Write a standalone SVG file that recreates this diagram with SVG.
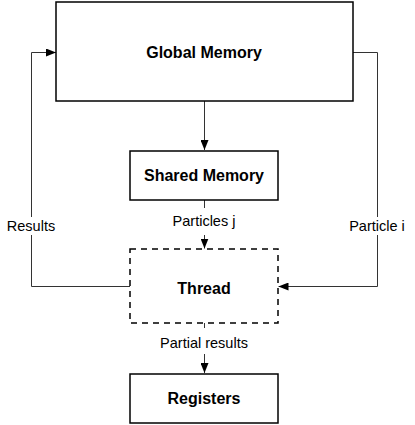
<svg xmlns="http://www.w3.org/2000/svg" width="415" height="425" viewBox="0 0 415 425">
<style>
.box{fill:#fff;stroke:#000;stroke-width:1.5}
.dash{fill:none;stroke:#000;stroke-width:1.5;stroke-dasharray:6,5}
.title{font-family:"Liberation Sans",Arial,sans-serif;font-weight:bold;font-size:16px;text-anchor:middle;fill:#000}
.lbl{font-family:"Liberation Sans",Arial,sans-serif;font-size:14.5px;text-anchor:middle;fill:#000}
.conn{fill:none;stroke:#333;stroke-width:1}
</style>
<defs>
<marker id="arr" viewBox="0 0 10 8" refX="10" refY="4" markerWidth="10" markerHeight="8" markerUnits="userSpaceOnUse" orient="auto">
<path d="M0,0 L10,4 L0,8 Z" fill="#000"/>
</marker>
</defs>
<g id="connectors">
<path class="conn" d="M204.5,101 V150" marker-end="url(#arr)"/>
<path class="conn" d="M204.5,200 V208"/>
<path class="conn" d="M204.5,235 V248.5" marker-end="url(#arr)"/>
<path class="conn" d="M204.5,323 V328"/>
<path class="conn" d="M204.5,354 V373" marker-end="url(#arr)"/>
<path class="conn" d="M130,286.5 H31.5 V52.5 H56" marker-end="url(#arr)"/>
<path class="conn" d="M353,52.5 H377.5 V286.5 H278.5" marker-end="url(#arr)"/>
<rect x="0" y="217" width="62" height="18" fill="#fff"/>
<rect x="344" y="217" width="70" height="18" fill="#fff"/>
<text class="lbl" x="31" y="231">Results</text>
<text class="lbl" x="377" y="231">Particle i</text>
<text class="lbl" x="204" y="226">Particles j</text>
<text class="lbl" x="204" y="348">Partial results</text>
</g>
<g id="global-memory">
<rect class="box" x="56" y="2" width="297" height="99"/>
<text class="title" x="204" y="57.5">Global Memory</text>
</g>
<g id="shared-memory">
<rect class="box" x="130" y="151" width="148" height="49"/>
<text class="title" x="204" y="181">Shared Memory</text>
</g>
<g id="thread">
<rect class="dash" x="130" y="249" width="148" height="74"/>
<text class="title" x="204" y="294">Thread</text>
</g>
<g id="registers">
<rect class="box" x="130" y="374" width="148" height="49"/>
<text class="title" x="204" y="403.5">Registers</text>
</g>
</svg>
